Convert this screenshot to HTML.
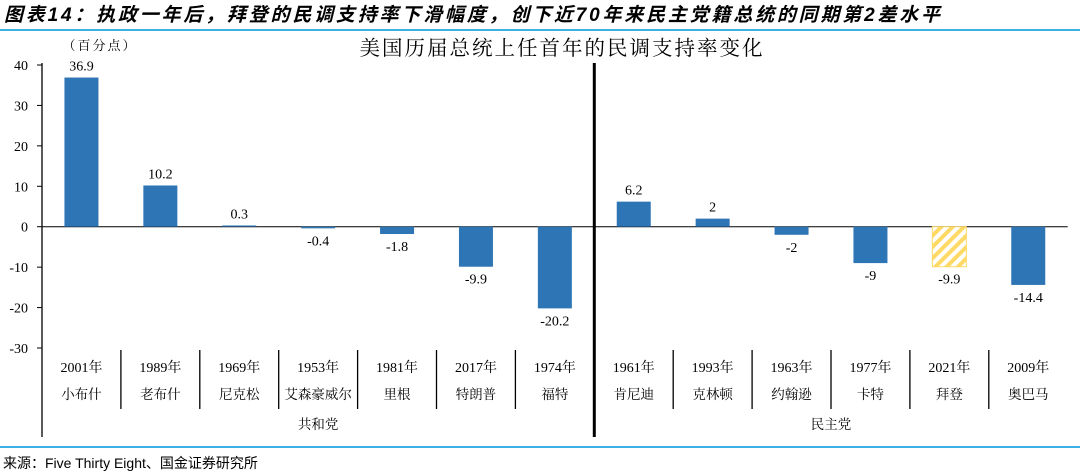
<!DOCTYPE html>
<html><head><meta charset="utf-8">
<style>
body{margin:0;background:#fff;width:1080px;height:474px;overflow:hidden;font-family:"Liberation Serif","Noto Serif CJK SC",serif;}
</style></head><body>
<div style="position:absolute;left:4px;top:0px;font:italic bold 19px 'Liberation Sans','Noto Sans CJK SC',sans-serif;letter-spacing:2.8px;color:#000;white-space:nowrap;">图表14：执政一年后，拜登的民调支持率下滑幅度，创下近70年来民主党籍总统的同期第2差水平</div>
<div style="position:absolute;left:0;top:29px;width:1080px;height:2px;background:#3bb0e6"></div>
<div style="position:absolute;left:0;top:446px;width:1080px;height:2px;background:#3bb0e6"></div>
<div style="position:absolute;left:3px;top:453px;font:14px 'Liberation Sans','Noto Sans CJK SC',sans-serif;">来源：Five Thirty Eight、国金证券研究所</div>
<svg id="chart" width="1080" height="474" style="position:absolute;left:0;top:0">
<defs><pattern id="hatch" patternUnits="userSpaceOnUse" width="8" height="8" patternTransform="rotate(45)"><rect width="8" height="8" fill="#fff"/><rect width="4" height="8" fill="#FFD966"/></pattern></defs>
</svg>
<script>
const categoriesYear=["2001年","1989年","1969年","1953年","1981年","2017年","1974年","1961年","1993年","1963年","1977年","2021年","2009年"];
const categoriesName=["小布什","老布什","尼克松","艾森豪威尔","里根","特朗普","福特","肯尼迪","克林顿","约翰逊","卡特","拜登","奥巴马"];
const values=[36.9,10.2,0.3,-0.4,-1.8,-9.9,-20.2,6.2,2,-2,-9,-9.9,-14.4];
const labels=["36.9","10.2","0.3","-0.4","-1.8","-9.9","-20.2","6.2","2","-2","-9","-9.9","-14.4"];
const yTicks=[40,30,20,10,0,-10,-20,-30];
const groups=["共和党","民主党"];
const groupSizes=[7,6];
const highlight=[false,false,false,false,false,false,false,false,false,false,false,true,false];
const svg=document.getElementById('chart');const NS='http://www.w3.org/2000/svg';
const x0=42,cw=78.9,yTop=65,yBot=348,vMax=40,vMin=-30;
const y=v=>yTop+(vMax-v)*(yBot-yTop)/(vMax-vMin);
const xc=i=>x0+cw*(i+0.5);
function mk(t,a,txt){const e=document.createElementNS(NS,t);for(const k in a)e.setAttribute(k,a[k]);if(txt!==undefined)e.textContent=txt;svg.appendChild(e);return e;}
let e=mk('text',{x:100,y:50,'font-size':13,'text-anchor':'middle','letter-spacing':2,'font-family':"'Liberation Serif','Noto Serif CJK SC',serif"},'（百分点）');

e=mk('text',{x:562,y:55,'font-size':20.5,'text-anchor':'middle','letter-spacing':2,'font-family':"'Liberation Serif','Noto Serif CJK SC',serif"},'美国历届总统上任首年的民调支持率变化');

e=mk('line',{x1:x0,x2:x0,y1:yTop-2,y2:437,stroke:'#000','stroke-width':1.3});

yTicks.forEach(t=>{let l=mk('line',{x1:x0-5,x2:x0,y1:y(t),y2:y(t),stroke:'#000'});

let tx=mk('text',{x:28,y:y(t)+5,'font-size':14,'text-anchor':'end'},String(t));
});
e=mk('line',{x1:x0,x2:x0+cw*values.length,y1:y(0),y2:y(0),stroke:'#000','stroke-width':1});

values.forEach((v,i)=>{const bw=34;const r=mk('rect',{x:xc(i)-bw/2,y:Math.min(y(v),y(0)),width:bw,height:Math.abs(y(v)-y(0)),fill:highlight[i]?'url(#hatch)':'#2E75B6',stroke:highlight[i]?'#FFD966':'none'});

const ly=v>=0?y(v)-7:y(v)+17;
const t=mk('text',{x:xc(i),y:ly,'font-size':14,'text-anchor':'middle'},labels[i]);

const a=mk('text',{x:xc(i),y:372,'font-size':14,'text-anchor':'middle','font-family':"'Liberation Serif','Noto Serif CJK SC',serif"},categoriesYear[i]);

const b=mk('text',{x:xc(i),y:399,'font-size':13.5,'text-anchor':'middle','font-family':"'Liberation Serif','Noto Serif CJK SC',serif"},categoriesName[i]);

if(i>0){const d=mk('line',{x1:x0+cw*i,x2:x0+cw*i,y1:350,y2:409,stroke:'#000','stroke-width':1.3});
}});
let start=0;groups.forEach((g,gi)=>{const cx=x0+cw*(start+groupSizes[gi]/2);
const t=mk('text',{x:cx,y:429,'font-size':13.5,'text-anchor':'middle','font-family':"'Liberation Serif','Noto Serif CJK SC',serif"},g);
start+=groupSizes[gi];});
const px=x0+cw*groupSizes[0];
e=mk('line',{x1:px,x2:px,y1:63,y2:437,stroke:'#000','stroke-width':3});

</script>
</body></html>
